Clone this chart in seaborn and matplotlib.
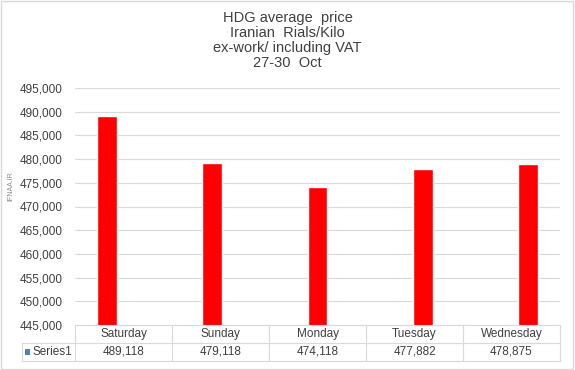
import numpy as np
import pandas as pd
import matplotlib
matplotlib.use('Agg')
import matplotlib.pyplot as plt
import seaborn as sns
from matplotlib.patches import Rectangle

days = ['Saturday', 'Sunday', 'Monday', 'Tuesday', 'Wednesday']
prices = [489118, 479118, 474118, 477882, 478875]
series_name = 'Series1'
yticks = list(range(445000, 495001, 5000))

sns.set_style('white')
plt.rcParams['font.family'] = ['Liberation Sans', 'DejaVu Sans']

df = pd.DataFrame({'day': days, 'price': prices})

fig = plt.figure(figsize=(5.75, 3.7), dpi=100)
ax = fig.add_axes([75 / 575, 45 / 370, 485 / 575, 237 / 370])

sns.barplot(data=df, x='day', y='price', color='#ff0000', width=0.19,
            saturation=1, ax=ax)
ax.set_ylim(445000, 495000)
ax.set_yticks(yticks)
ax.set_yticklabels([f'{v:,}' for v in yticks], fontsize=8.5, color='#404040')
ax.yaxis.grid(True, color='#d9d9d9', linewidth=0.8)
ax.set_axisbelow(True)
ax.tick_params(axis='y', length=0, pad=9)
ax.set_xticks([])
ax.set_xlabel('')
ax.set_ylabel('')
for s in ax.spines.values():
    s.set_visible(False)

# data table under the chart
lc = '#d9d9d9'
row_h = 18 / 237
left = -53 / 485
kw = dict(transform=ax.transAxes, clip_on=False, color=lc, linewidth=0.8)
ax.plot([0, 1], [0, 0], **kw)
ax.plot([left, 1], [-row_h, -row_h], **kw)
ax.plot([left, 1], [-2 * row_h, -2 * row_h], **kw)
ax.plot([left, left], [-row_h, -2 * row_h], **kw)
for i in range(6):
    ax.plot([i / 5, i / 5], [0, -2 * row_h], **kw)
for i, (d, p) in enumerate(zip(days, prices)):
    xc = (i + 0.5) / 5
    ax.text(xc, -row_h / 2, d, transform=ax.transAxes, ha='center',
            va='center', fontsize=8.5, color='#404040')
    ax.text(xc, -1.5 * row_h, f'{p:,}', transform=ax.transAxes,
            ha='center', va='center', fontsize=8.5, color='#404040')
ax.add_patch(Rectangle((left + 0.006, -1.5 * row_h - 0.014), 0.011, 0.028,
                       transform=ax.transAxes, clip_on=False,
                       facecolor='#4f81bd', edgecolor='none'))
ax.text(left + 0.021, -1.5 * row_h, series_name, transform=ax.transAxes,
        ha='left', va='center', fontsize=8.5, color='#404040')

fig.text(11 / 575, 1 - 186 / 370, 'IFNAA.IR', rotation=90, ha='center',
         va='center', fontsize=5, color='#8c8c8c')

title = 'HDG average  price\nIranian  Rials/Kilo\nex-work/ including VAT\n27-30  Oct'
fig.text(0.5, 1 - 11 / 370, title, ha='center', va='top', fontsize=10.5,
         color='#404040', linespacing=1.08)

fig.patches.append(Rectangle((0.002, 0.003), 0.995, 0.993,
                             transform=fig.transFigure, fill=False,
                             edgecolor='#d9d9d9', linewidth=1))

fig.savefig('out.png', dpi=100)
